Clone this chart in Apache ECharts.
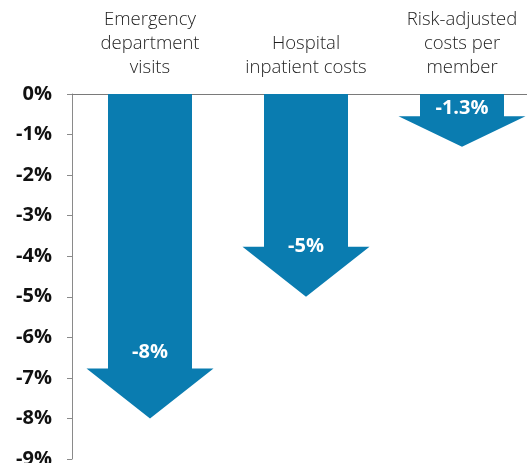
<!DOCTYPE html>
<html>
<head>
<meta charset="utf-8">
<script src="https://cdn.jsdelivr.net/npm/echarts@6/dist/echarts.min.js"></script>
<style>
  html, body { margin: 0; padding: 0; background: #fff; }
  #chart { width: 527px; height: 463px; }
</style>
</head>
<body>
<div id="chart"></div>
<script>
const categories = [
  'Emergency\ndepartment\nvisits',
  'Hospital\ninpatient costs',
  'Risk-adjusted\ncosts per\nmember'
];
const changes = [-8, -5, -1.3];
const valueLabels = ['-8%', '-5%', '-1.3%'];

const arrowColor = '#0a7cb0';
// small per-arrow nudge of the value label (px, relative to the head top)
const labelLift = [16, 0, 8];

const chart = echarts.init(document.getElementById('chart'));

function renderArrow(params, api) {
  const idx = api.value(0);
  const top = api.coord([idx, 0]);
  const tip = api.coord([idx, api.value(1)]);
  const cx = top[0];
  const len = tip[1] - top[1];
  const headH = Math.min(50, len * 0.58);
  const headTop = tip[1] - headH;
  const shaftHalf = 42;
  const headHalf = 63.5;
  return {
    type: 'group',
    children: [
      {
        type: 'polygon',
        shape: {
          points: [
            [cx - shaftHalf, top[1]],
            [cx + shaftHalf, top[1]],
            [cx + shaftHalf, headTop],
            [cx + headHalf, headTop],
            [cx, tip[1]],
            [cx - headHalf, headTop],
            [cx - shaftHalf, headTop]
          ]
        },
        style: { fill: arrowColor }
      },
      {
        type: 'text',
        x: cx,
        y: headTop - labelLift[params.dataIndex],
        style: {
          text: valueLabels[params.dataIndex],
          fill: '#fff',
          font: 'bold 20px "Open Sans", sans-serif',
          align: 'center',
          verticalAlign: 'middle'
        }
      }
    ]
  };
}

chart.setOption({
  animation: false,
  backgroundColor: '#fff',
  grid: { left: 72, right: -13, top: 94, bottom: 4, outerBoundsMode: 'none', containLabel: false },
  xAxis: {
    type: 'category',
    position: 'top',
    data: categories,
    axisLine: { lineStyle: { color: '#7a7a7a', width: 1 } },
    axisTick: { show: false },
    axisLabel: {
      color: '#1e1e1e',
      fontFamily: 'Open Sans',
      fontWeight: 300,
      fontSize: 18.5,
      lineHeight: 24,
      margin: 14,
      interval: 0
    }
  },
  yAxis: {
    type: 'value',
    min: -9,
    max: 0,
    interval: 1,
    axisLine: { show: true, lineStyle: { color: '#8a8a8a' } },
    axisTick: { show: true, length: 5, lineStyle: { color: '#8a8a8a' } },
    splitLine: { show: false },
    axisLabel: {
      color: '#111',
      fontFamily: 'Open Sans',
      fontWeight: 'bold',
      fontSize: 20,
      margin: 20,
      formatter: '{value}%'
    }
  },
  series: [
    {
      type: 'custom',
      renderItem: renderArrow,
      encode: { x: 0, y: 1 },
      data: changes.map((v, i) => [i, v]),
      clip: false
    }
  ]
});
</script>
</body>
</html>
